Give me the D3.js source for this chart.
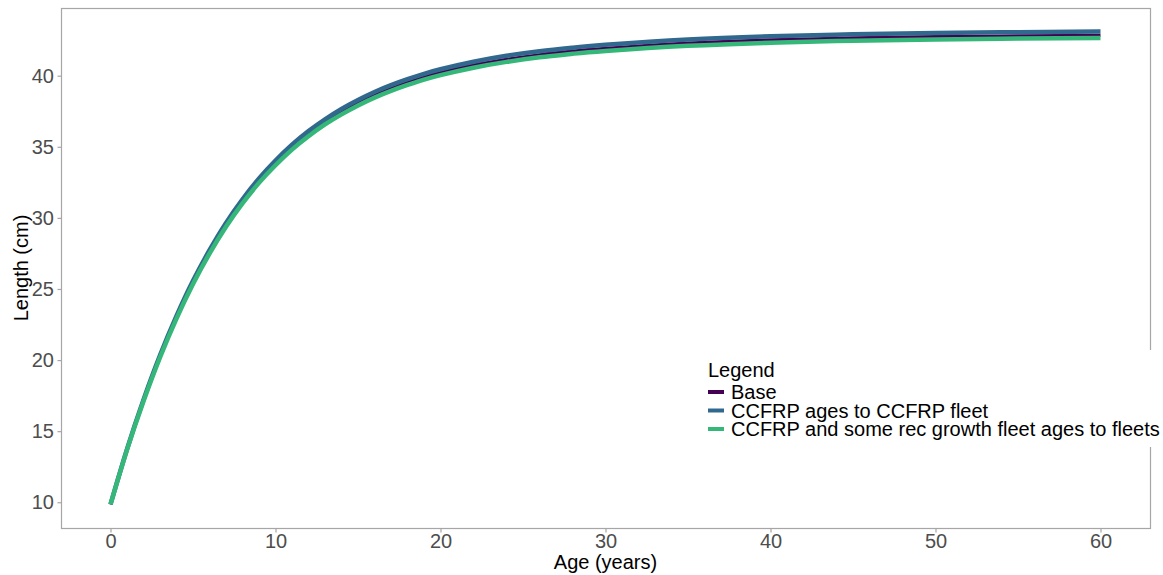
<!DOCTYPE html>
<html>
<head>
<meta charset="utf-8">
<script src="https://cdn.jsdelivr.net/npm/d3@7"></script>
<style>
  body { margin: 0; background: #fff; }
  text { font-family: "Liberation Sans", Arial, sans-serif; }
</style>
</head>
<body>
<div id="chart"></div>
<script>
// ages
const ages = [0, 1, 2, 3, 4, 5, 6, 7, 8, 9, 10, 11, 12, 13, 14, 15, 16, 17, 18, 19, 20,
              22, 24, 26, 28, 30, 35, 40, 45, 50, 55, 60];

const baseLen = [9.85, 13.7, 17.15, 20.25, 23.0, 25.45, 27.6, 29.5, 31.15, 32.6, 33.85, 34.95, 35.9, 36.73, 37.45, 38.08,
                 38.63, 39.11, 39.53, 39.9, 40.22, 40.75, 41.16, 41.48, 41.73, 41.93, 42.3, 42.52, 42.66, 42.75, 42.81, 42.85];
const ccfrpLen = [9.85, 13.73, 17.21, 20.33, 23.1, 25.57, 27.73, 29.65, 31.31, 32.77, 34.03, 35.14, 36.1, 36.93, 37.66, 38.29,
                  38.85, 39.33, 39.75, 40.13, 40.45, 40.98, 41.4, 41.72, 41.97, 42.17, 42.55, 42.77, 42.91, 43.0, 43.06, 43.1];
const recLen = [9.85, 13.68, 17.1, 20.18, 22.92, 25.35, 27.49, 29.38, 31.02, 32.46, 33.7, 34.8, 35.74, 36.57, 37.28, 37.91,
                38.46, 38.93, 39.35, 39.72, 40.04, 40.56, 40.97, 41.29, 41.54, 41.74, 42.1, 42.32, 42.46, 42.55, 42.61, 42.65];

const seriesNames = ["Base", "CCFRP ages to CCFRP fleet", "CCFRP and some rec growth fleet ages to fleets"];
const seriesColors = ["#440154", "#31688E", "#35B779"];
const xTicks = [0, 10, 20, 30, 40, 50, 60];
const yTicks = [10, 15, 20, 25, 30, 35, 40];

const w = 1163, h = 575;
const padL = 61, padR = 1150, padT = 8, padB = 528;

const svg = d3.select("#chart").append("svg")
  .attr("width", w)
  .attr("height", h);

const x = d3.scaleLinear().domain([-3, 63]).range([padL, padR]);
const y = d3.scaleLinear().domain([8.19, 44.76]).range([padB, padT]);

const series = [baseLen, ccfrpLen, recLen].map((vals, i) => ({
  name: seriesNames[i],
  color: seriesColors[i],
  points: ages.map((a, j) => [a, vals[j]])
}));

const line = d3.line()
  .x(d => x(d[0]))
  .y(d => y(d[1]))
  .curve(d3.curveNatural);

svg.append("g")
  .selectAll("path")
  .data(series)
  .enter()
  .append("path")
  .attr("d", d => line(d.points))
  .attr("fill", "none")
  .attr("stroke", d => d.color)
  .attr("stroke-width", (d, i) => i === 0 ? 3 : 4.5);

// panel border
svg.append("rect")
  .attr("x", padL + 0.5)
  .attr("y", padT + 0.5)
  .attr("width", padR - padL)
  .attr("height", padB - padT)
  .attr("fill", "none")
  .attr("stroke", "#a6a6a6")
  .attr("stroke-width", 1.2);

const xAxis = d3.axisBottom(x).tickValues(xTicks).tickSize(4).tickPadding(1.5);
const yAxis = d3.axisLeft(y).tickValues(yTicks).tickSize(4).tickPadding(3.5);

const gx = svg.append("g")
  .attr("transform", "translate(0," + (padB + 0.5) + ")")
  .call(xAxis);
const gy = svg.append("g")
  .attr("transform", "translate(" + (padL + 0.5) + ",0)")
  .call(yAxis);

[gx, gy].forEach(g => {
  g.select(".domain").remove();
  g.selectAll(".tick line").attr("stroke", "#a6a6a6").attr("stroke-width", 1.2);
  g.selectAll(".tick text")
    .attr("fill", "#4d4d4d")
    .style("font-size", "20px")
    .style("font-family", "'Liberation Sans', Arial, sans-serif");
});

svg.append("text")
  .attr("x", (padL + padR) / 2)
  .attr("y", 569)
  .attr("text-anchor", "middle")
  .style("font-size", "20px")
  .text("Age (years)");

svg.append("text")
  .attr("transform", "translate(27.5," + ((padT + padB) / 2) + ") rotate(-90)")
  .attr("text-anchor", "middle")
  .style("font-size", "20px")
  .text("Length (cm)");

// legend
const lg = svg.append("g");
lg.append("rect")
  .attr("x", 698)
  .attr("y", 350)
  .attr("width", 470)
  .attr("height", 97)
  .attr("fill", "#fff");

lg.append("text")
  .attr("x", 708)
  .attr("y", 377)
  .style("font-size", "20px")
  .text("Legend");

const item = lg.selectAll("g.item")
  .data(series)
  .enter()
  .append("g")
  .attr("class", "item")
  .attr("transform", (d, i) => "translate(708," + (392 + i * 18.5) + ")");

item.append("line")
  .attr("x1", 0)
  .attr("x2", 16)
  .attr("stroke", d => d.color)
  .attr("stroke-width", 4);

item.append("text")
  .attr("x", 23)
  .attr("y", 7)
  .style("font-size", "20px")
  .text(d => d.name);
</script>
</body>
</html>
